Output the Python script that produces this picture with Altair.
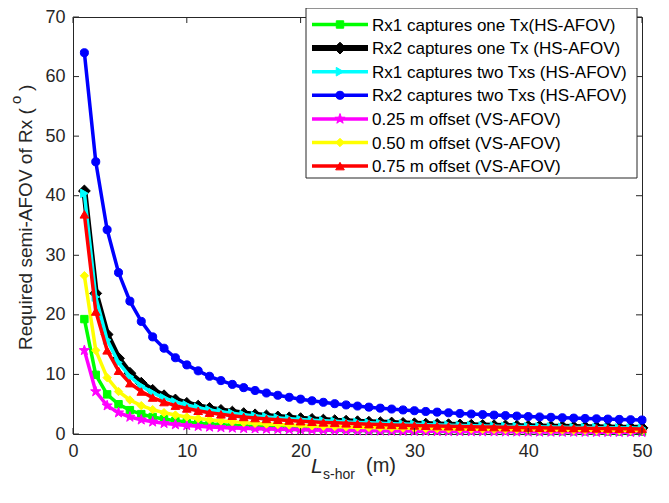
import altair as alt
import pandas as pd

# ---------------- data ----------------
x_vals = list(range(1, 51))

rx1_one_tx = [19.29, 9.93, 6.65, 5.00, 4.00, 3.34, 2.86, 2.51, 2.23, 2.00,
              1.82, 1.67, 1.54, 1.43, 1.34, 1.25, 1.18, 1.11, 1.06, 1.00,
              0.95, 0.91, 0.87, 0.84, 0.80, 0.77, 0.74, 0.72, 0.69, 0.67,
              0.65, 0.63, 0.61, 0.59, 0.57, 0.56, 0.54, 0.53, 0.51, 0.50,
              0.49, 0.48, 0.47, 0.46, 0.45, 0.44, 0.43, 0.42, 0.41, 0.40]

rx2_one_tx = [40.8, 23.6, 16.7, 12.7, 10.2, 8.53, 7.33, 6.42, 5.71, 5.14,
              4.68, 4.29, 3.96, 3.68, 3.43, 3.22, 3.03, 2.86, 2.71, 2.58,
              2.45, 2.34, 2.24, 2.15, 2.06, 1.98, 1.91, 1.84, 1.78, 1.72,
              1.66, 1.61, 1.56, 1.52, 1.47, 1.43, 1.39, 1.36, 1.32, 1.29,
              1.26, 1.23, 1.20, 1.17, 1.15, 1.12, 1.10, 1.07, 1.05, 1.03]

rx1_two_txs = [40.4, 23.0, 15.8, 12.0, 9.65, 8.06, 6.92, 6.07, 5.39, 4.86,
               4.42, 4.05, 3.74, 3.47, 3.24, 3.04, 2.86, 2.70, 2.56, 2.43,
               2.32, 2.21, 2.12, 2.03, 1.95, 1.87, 1.80, 1.74, 1.68, 1.62,
               1.57, 1.52, 1.48, 1.43, 1.39, 1.35, 1.32, 1.28, 1.25, 1.22,
               1.19, 1.16, 1.13, 1.11, 1.08, 1.06, 1.04, 1.01, 0.99, 0.97]

rx2_two_txs = [64.0, 45.7, 34.3, 27.1, 22.3, 18.9, 16.3, 14.4, 12.8, 11.6,
               10.6, 9.69, 8.96, 8.33, 7.78, 7.30, 6.88, 6.50, 6.16, 5.85,
               5.58, 5.32, 5.09, 4.88, 4.69, 4.51, 4.34, 4.19, 4.04, 3.91,
               3.78, 3.67, 3.56, 3.45, 3.35, 3.26, 3.17, 3.09, 3.01, 2.93,
               2.86, 2.80, 2.73, 2.67, 2.61, 2.55, 2.50, 2.45, 2.40, 2.35]

off_025 = [14.04, 7.13, 4.76, 3.58, 2.86, 2.39, 2.05, 1.79, 1.59, 1.43,
           1.30, 1.19, 1.10, 1.02, 0.95, 0.90, 0.84, 0.80, 0.75, 0.72,
           0.68, 0.65, 0.62, 0.60, 0.57, 0.55, 0.53, 0.51, 0.49, 0.48,
           0.46, 0.45, 0.43, 0.42, 0.41, 0.40, 0.39, 0.38, 0.37, 0.36,
           0.35, 0.34, 0.33, 0.33, 0.32, 0.31, 0.30, 0.30, 0.29, 0.29]

off_050 = [26.57, 14.04, 9.46, 7.13, 5.71, 4.76, 4.09, 3.58, 3.18, 2.86,
           2.60, 2.39, 2.20, 2.05, 1.91, 1.79, 1.68, 1.59, 1.51, 1.43,
           1.36, 1.30, 1.25, 1.19, 1.15, 1.10, 1.06, 1.02, 0.99, 0.95,
           0.92, 0.90, 0.87, 0.84, 0.82, 0.80, 0.77, 0.75, 0.73, 0.72,
           0.70, 0.68, 0.67, 0.65, 0.64, 0.62, 0.61, 0.60, 0.58, 0.57]

off_075 = [36.87, 20.56, 14.04, 10.62, 8.53, 7.13, 6.12, 5.36, 4.76, 4.29,
           3.90, 3.58, 3.30, 3.07, 2.86, 2.68, 2.53, 2.39, 2.26, 2.15,
           2.05, 1.95, 1.87, 1.79, 1.72, 1.65, 1.59, 1.53, 1.48, 1.43,
           1.39, 1.34, 1.30, 1.26, 1.23, 1.19, 1.16, 1.13, 1.10, 1.07,
           1.05, 1.02, 1.00, 0.98, 0.95, 0.93, 0.91, 0.90, 0.88, 0.86]

series_names = [
    "Rx1 captures one Tx(HS-AFOV)",
    "Rx2 captures one Tx (HS-AFOV)",
    "Rx1 captures two Txs (HS-AFOV)",
    "Rx2 captures two Txs (HS-AFOV)",
    "0.25 m offset (VS-AFOV)",
    "0.50 m offset (VS-AFOV)",
    "0.75 m offset (VS-AFOV)",
]
series_values = [rx1_one_tx, rx2_one_tx, rx1_two_txs, rx2_two_txs,
                 off_025, off_050, off_075]

x_ticks = [0, 10, 20, 30, 40, 50]
y_ticks = [0, 10, 20, 30, 40, 50, 60, 70]

# ---------------- styles ----------------
STAR = ("M0,-1L0.235,-0.324L0.951,-0.309L0.38,0.124L0.588,0.809L0,0.4"
        "L-0.588,0.809L-0.38,0.124L-0.951,-0.309L-0.235,-0.324Z")
colors = ["#00FF00", "#000000", "#00FFFF", "#0000FF", "#FF00FF", "#FFFF00", "#FF0000"]
shapes = ["square", "diamond", "triangle-right", "circle", STAR, "diamond", "triangle-up"]
msizes = [55, 140, 75, 65, 115, 70, 75]
lwidths = [3.5, 6, 3.5, 3.5, 3.5, 3.5, 3.5]

FONT = "Liberation Sans"
TXT = "#262626"
TOP = 9
W, H = 569, 417

xaxis = alt.Axis(values=x_ticks, title=None, grid=False, ticks=False, domain=False,
                 labelFont=FONT, labelFontSize=18, labelColor=TXT, labelPadding=8,
                 labelFlush=False)
yaxis = alt.Axis(values=y_ticks, title=None, grid=False,
                 ticks=False, domain=False, labelFont=FONT, labelFontSize=18,
                 labelColor=TXT, labelPadding=8, labelFlush=False)
xscale = alt.Scale(domain=[0, 50], nice=False, zero=False, padding=0)
yscale = alt.Scale(domain=[0, 70], nice=False, zero=False, padding=0)

layers = []
for name, vals, c, sh, ms, lw in zip(series_names, series_values, colors, shapes, msizes, lwidths):
    df = pd.DataFrame({"x": x_vals, "y": vals})
    base = alt.Chart(df).encode(
        x=alt.X("x:Q", scale=xscale, axis=xaxis),
        y=alt.Y("y:Q", scale=yscale, axis=yaxis),
    )
    layers.append(base.mark_line(color=c, strokeWidth=lw))
    layers.append(base.mark_point(shape=sh, size=ms, filled=True, fill=c, stroke=c,
                                  strokeWidth=1, opacity=1))

# inward ticks (MATLAB style)
ytd = pd.DataFrame({"v": y_ticks})
xtd = pd.DataFrame({"v": x_ticks})
TL = 6
layers.append(alt.Chart(ytd).mark_rule(color=TXT, strokeWidth=1).encode(
    y=alt.Y("v:Q", scale=yscale, axis=yaxis), x=alt.value(0), x2=alt.value(TL)))
layers.append(alt.Chart(ytd).mark_rule(color=TXT, strokeWidth=1).encode(
    y=alt.Y("v:Q", scale=yscale, axis=yaxis), x=alt.value(W - TL), x2=alt.value(W)))
layers.append(alt.Chart(xtd).mark_rule(color=TXT, strokeWidth=1).encode(
    x=alt.X("v:Q", scale=xscale, axis=xaxis), y=alt.value(H - TL), y2=alt.value(H)))
layers.append(alt.Chart(xtd).mark_rule(color=TXT, strokeWidth=1).encode(
    x=alt.X("v:Q", scale=xscale, axis=xaxis), y=alt.value(0), y2=alt.value(TL)))

one = pd.DataFrame({"a": [0]})

# x-axis title: L_{s-hor} (m)
XT = H + 39
layers.append(alt.Chart(one).mark_text(text="L", font=FONT, fontSize=21, fontStyle="italic",
                                       color=TXT, align="left", baseline="alphabetic").encode(
    x=alt.value(238), y=alt.value(XT)))
layers.append(alt.Chart(one).mark_text(text="s-hor", font=FONT, fontSize=14,
                                       color=TXT, align="left", baseline="alphabetic").encode(
    x=alt.value(250), y=alt.value(XT + 6)))
layers.append(alt.Chart(one).mark_text(text="(m)", font=FONT, fontSize=20,
                                       color=TXT, align="left", baseline="alphabetic").encode(
    x=alt.value(293), y=alt.value(XT - 1)))

# y-axis title: Required semi-AFOV of Rx (^o)
layers.append(alt.Chart(one).mark_text(text="Required semi-AFOV of Rx (", font=FONT, fontSize=19,
                                       angle=270, color=TXT, align="left",
                                       baseline="alphabetic").encode(
    x=alt.value(-41), y=alt.value(333)))
layers.append(alt.Chart(one).mark_text(text="o", font=FONT, fontSize=15,
                                       angle=270, color=TXT, align="left",
                                       baseline="alphabetic").encode(
    x=alt.value(-52), y=alt.value(87)))
layers.append(alt.Chart(one).mark_text(text=")", font=FONT, fontSize=19,
                                       angle=270, color=TXT, align="left",
                                       baseline="alphabetic").encode(
    x=alt.value(-41), y=alt.value(74)))

# legend
LX0, LX1, LY0, LY1 = 233, 564, -9, 161
layers.append(alt.Chart(one).mark_rect(fill="white", stroke=TXT, strokeWidth=1).encode(
    x=alt.value(LX0), x2=alt.value(LX1), y=alt.value(LY0), y2=alt.value(LY1)))
for i, (name, c, sh, ms, lw) in enumerate(zip(series_names, colors, shapes, msizes, lwidths)):
    yy = LY0 + 16.5 + 23.6 * i
    ld = pd.DataFrame({"label": [name]})
    layers.append(alt.Chart(ld).mark_rule(color=c, strokeWidth=lw).encode(
        x=alt.value(239), x2=alt.value(295), y=alt.value(yy)))
    layers.append(alt.Chart(ld).mark_point(shape=sh, size=ms, filled=True, fill=c, stroke=c,
                                           strokeWidth=1, opacity=1).encode(
        x=alt.value(267), y=alt.value(yy)))
    layers.append(alt.Chart(ld).mark_text(font=FONT, fontSize=17, color="#000000",
                                          align="left", baseline="middle").encode(
        x=alt.value(299), y=alt.value(yy + 1), text="label:N"))

chart = alt.layer(*layers).properties(
    width=W, height=H,
    autosize=alt.AutoSizeParams(type="none"),
    padding={"left": 65, "top": TOP, "right": 19, "bottom": 61},
    background="white",
).configure_view(stroke=TXT, strokeWidth=1)

chart.save("out.html", embed_options={"renderer": "svg", "actions": False})
